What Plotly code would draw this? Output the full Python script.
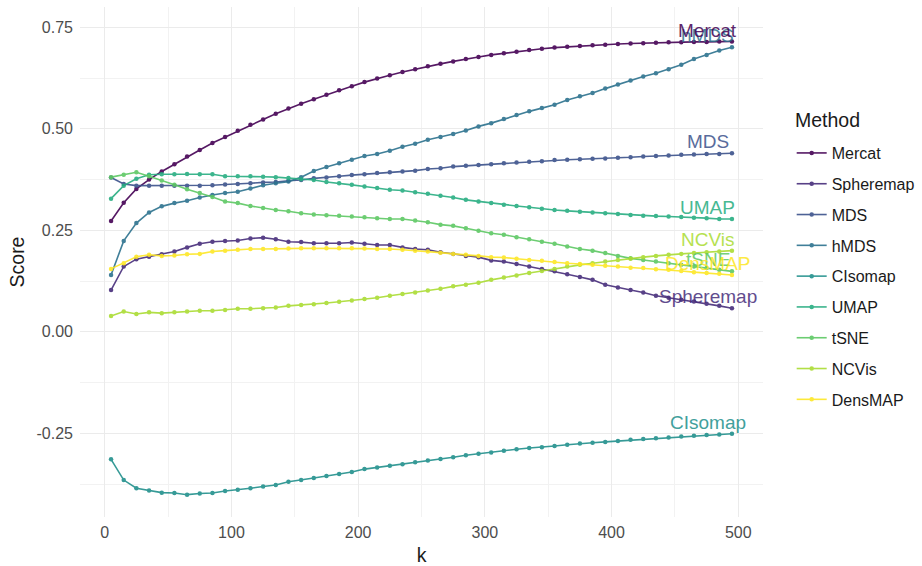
import plotly.graph_objects as go

k = list(range(5, 500, 10))

methods = ["Mercat", "Spheremap", "MDS", "hMDS", "CIsomap", "UMAP", "tSNE", "NCVis", "DensMAP"]
colors = ["#440154", "#472D7B", "#3B528B", "#2C728E", "#21908C", "#27AD81", "#5DC863", "#AADC32", "#FDE725"]

mercat = [0.273, 0.318, 0.352, 0.375, 0.395, 0.413, 0.432, 0.448, 0.465, 0.480,
          0.495, 0.510, 0.523, 0.537, 0.550, 0.562, 0.573, 0.584, 0.595, 0.605,
          0.615, 0.624, 0.632, 0.640, 0.647, 0.654, 0.660, 0.666, 0.672, 0.677,
          0.682, 0.686, 0.690, 0.694, 0.697, 0.700, 0.702, 0.704, 0.706, 0.707,
          0.709, 0.710, 0.711, 0.712, 0.713, 0.713, 0.714, 0.714, 0.715, 0.715]
spheremap = [0.103, 0.161, 0.179, 0.185, 0.191, 0.198, 0.208, 0.217, 0.222, 0.224,
             0.225, 0.230, 0.232, 0.228, 0.222, 0.221, 0.218, 0.218, 0.218, 0.220,
             0.217, 0.214, 0.214, 0.208, 0.204, 0.202, 0.196, 0.192, 0.187, 0.184,
             0.176, 0.173, 0.167, 0.161, 0.155, 0.149, 0.142, 0.135, 0.128, 0.116,
             0.109, 0.103, 0.097, 0.089, 0.084, 0.079, 0.075, 0.069, 0.064, 0.058]
mds = [0.380, 0.364, 0.360, 0.360, 0.360, 0.360, 0.360, 0.360, 0.361, 0.363,
       0.364, 0.366, 0.368, 0.369, 0.372, 0.374, 0.378, 0.380, 0.383, 0.386,
       0.388, 0.391, 0.393, 0.395, 0.397, 0.401, 0.403, 0.407, 0.409, 0.411,
       0.413, 0.415, 0.417, 0.419, 0.420, 0.423, 0.424, 0.425, 0.426, 0.427,
       0.429, 0.430, 0.432, 0.433, 0.434, 0.436, 0.437, 0.438, 0.438, 0.440]
hmds = [0.140, 0.224, 0.268, 0.294, 0.309, 0.317, 0.323, 0.331, 0.337, 0.342,
        0.345, 0.353, 0.361, 0.366, 0.370, 0.381, 0.396, 0.406, 0.415, 0.424,
        0.433, 0.438, 0.446, 0.456, 0.463, 0.473, 0.480, 0.487, 0.496, 0.506,
        0.514, 0.524, 0.534, 0.543, 0.551, 0.559, 0.571, 0.580, 0.588, 0.599,
        0.609, 0.619, 0.629, 0.637, 0.647, 0.658, 0.672, 0.682, 0.693, 0.701]
cisomap = [-0.314, -0.365, -0.385, -0.391, -0.396, -0.397, -0.401, -0.398, -0.397, -0.392,
           -0.389, -0.385, -0.381, -0.377, -0.369, -0.365, -0.360, -0.355, -0.350, -0.345,
           -0.338, -0.334, -0.330, -0.326, -0.321, -0.317, -0.313, -0.309, -0.304, -0.300,
           -0.297, -0.293, -0.289, -0.286, -0.284, -0.281, -0.278, -0.275, -0.273, -0.271,
           -0.269, -0.266, -0.264, -0.262, -0.260, -0.258, -0.256, -0.254, -0.253, -0.251]
umap = [0.328, 0.360, 0.377, 0.387, 0.388, 0.388, 0.389, 0.388, 0.388, 0.383,
        0.383, 0.383, 0.382, 0.381, 0.379, 0.376, 0.374, 0.369, 0.366, 0.362,
        0.358, 0.354, 0.350, 0.348, 0.344, 0.340, 0.335, 0.331, 0.325, 0.321,
        0.317, 0.313, 0.310, 0.307, 0.303, 0.300, 0.298, 0.296, 0.294, 0.292,
        0.290, 0.288, 0.286, 0.285, 0.284, 0.283, 0.281, 0.280, 0.278, 0.278]
tsne = [0.381, 0.387, 0.393, 0.383, 0.373, 0.362, 0.351, 0.342, 0.332, 0.321,
        0.317, 0.310, 0.305, 0.300, 0.297, 0.292, 0.289, 0.287, 0.286, 0.284,
        0.282, 0.280, 0.278, 0.278, 0.274, 0.270, 0.264, 0.261, 0.255, 0.249,
        0.243, 0.239, 0.233, 0.228, 0.222, 0.217, 0.210, 0.204, 0.200, 0.194,
        0.187, 0.181, 0.177, 0.173, 0.169, 0.165, 0.161, 0.157, 0.153, 0.149]
ncvis = [0.039, 0.050, 0.044, 0.048, 0.046, 0.048, 0.050, 0.052, 0.052, 0.054,
         0.057, 0.057, 0.058, 0.060, 0.064, 0.066, 0.068, 0.071, 0.074, 0.077,
         0.081, 0.084, 0.089, 0.093, 0.097, 0.102, 0.106, 0.112, 0.116, 0.121,
         0.128, 0.134, 0.139, 0.145, 0.150, 0.155, 0.161, 0.165, 0.169, 0.173,
         0.177, 0.180, 0.184, 0.187, 0.190, 0.192, 0.194, 0.196, 0.198, 0.200]
densmap = [0.155, 0.169, 0.185, 0.190, 0.187, 0.188, 0.191, 0.192, 0.198, 0.200,
           0.202, 0.204, 0.204, 0.204, 0.205, 0.206, 0.206, 0.206, 0.206, 0.206,
           0.205, 0.204, 0.204, 0.202, 0.200, 0.198, 0.195, 0.192, 0.190, 0.187,
           0.184, 0.183, 0.180, 0.177, 0.175, 0.172, 0.169, 0.167, 0.165, 0.163,
           0.161, 0.158, 0.157, 0.154, 0.153, 0.150, 0.147, 0.145, 0.143, 0.140]

series = [mercat, spheremap, mds, hmds, cisomap, umap, tsne, ncvis, densmap]

x_ticks = [0, 100, 200, 300, 400, 500]
y_ticks = [-0.25, 0.0, 0.25, 0.5, 0.75]
y_tick_text = ["-0.25", "0.00", "0.25", "0.50", "0.75"]
legend_title = "Method"

FONT = "Liberation Sans, Arial, sans-serif"

fig = go.Figure()
for name, col, vals in zip(methods, colors, series):
    fig.add_trace(go.Scatter(
        x=k, y=vals, mode="lines+markers", name=name, legendgroup=name,
        line=dict(color=col, width=1.6),
        marker=dict(color=col, size=4.5),
        opacity=0.9,
    ))

# end labels (hMDS drawn first so Mercat sits on top of it)
label_order = ["hMDS", "Mercat", "Spheremap", "MDS", "CIsomap", "UMAP", "tSNE", "NCVis", "DensMAP"]
for name in label_order:
    i = methods.index(name)
    fig.add_annotation(
        x=k[-3] + 1, y=series[i][-1], xref="x", yref="y",
        text=name, showarrow=False, xanchor="center", yanchor="middle",
        yshift=11.5, font=dict(family=FONT, size=19, color=colors[i]), opacity=0.85,
    )

# legend title (pixel position converted to paper coordinates)
fig.add_annotation(
    x=(793 - 80) / (922 - 80 - 159), y=(566 - 49 - 120) / (566 - 7 - 49),
    xref="paper", yref="paper", text=legend_title, showarrow=False,
    xanchor="left", yanchor="middle", font=dict(family=FONT, size=19.5, color="#1A1A1A"),
)

grid = "#EBEBEB"
fig.update_layout(
    width=922, height=566,
    margin=dict(l=80, r=159, t=7, b=49, autoexpand=False),
    paper_bgcolor="white", plot_bgcolor="white",
    font=dict(family=FONT, color="#1A1A1A"),
    showlegend=True,
    legend=dict(
        font=dict(size=16, color="#1A1A1A"),
        x=1.042, xanchor="left", y=0.747, yanchor="top",
        tracegroupgap=7, itemwidth=30,
        bgcolor="rgba(0,0,0,0)",
    ),
    xaxis=dict(
        range=[-19.5, 519.5], tickvals=x_ticks, showgrid=True, gridcolor=grid, gridwidth=1.1,
        zeroline=False, showline=False, ticks="",
        tickfont=dict(size=16, color="#4D4D4D"), ticklabelstandoff=4,
        title=dict(text="k", font=dict(size=19.5, color="#1A1A1A"), standoff=10),
        minor=dict(tickvals=[50, 150, 250, 350, 450], showgrid=True, gridcolor="#F2F2F2", gridwidth=0.6),
    ),
    yaxis=dict(
        range=[-0.456, 0.800], tickvals=y_ticks, ticktext=y_tick_text,
        showgrid=True, gridcolor=grid, gridwidth=1.1,
        zeroline=False, showline=False, ticks="",
        tickfont=dict(size=16, color="#4D4D4D"), ticklabelstandoff=6,
        title=dict(text="Score", font=dict(size=19.5, color="#1A1A1A"), standoff=6),
        minor=dict(tickvals=[-0.375, -0.125, 0.125, 0.375, 0.625], showgrid=True, gridcolor="#F2F2F2", gridwidth=0.6),
    ),
)

fig.write_html("out.html")
